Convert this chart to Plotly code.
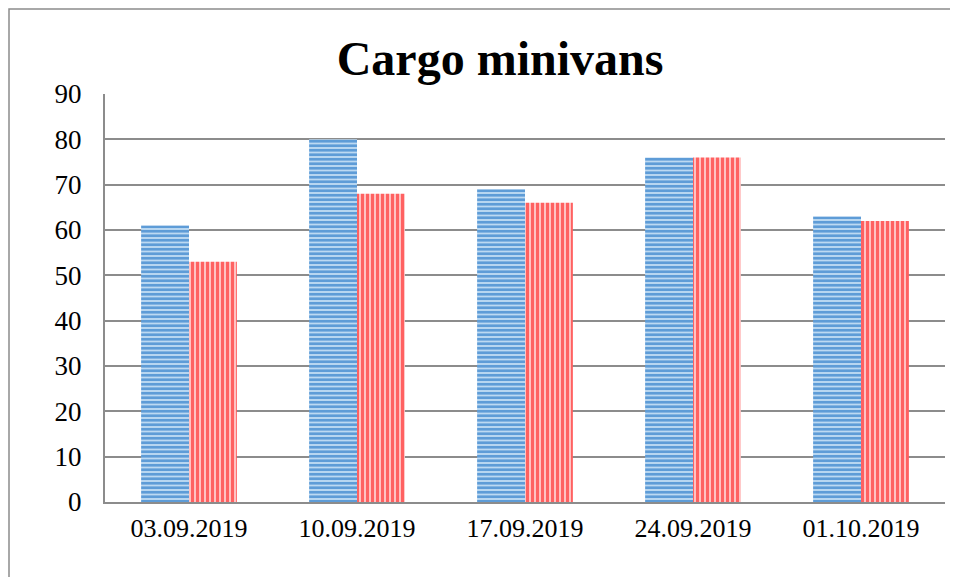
import plotly.graph_objects as go

categories = ["03.09.2019", "10.09.2019", "17.09.2019", "24.09.2019", "01.10.2019"]
series_a = [61, 80, 69, 76, 63]
series_b = [53, 68, 66, 76, 62]
y_ticks = [0, 10, 20, 30, 40, 50, 60, 70, 80, 90]

L, T, PW, PH = 97, 86, 840, 408
W, H = 958, 577

fig = go.Figure()
fig.add_trace(go.Bar(
    x=categories, y=series_a, name="A",
    marker=dict(color="#bcd9f2", line=dict(width=0),
                pattern=dict(shape="-", fgcolor="#005fbb", bgcolor="#bcd9f2",
                             size=4.5, solidity=0.6, fillmode="overlay")),
))
fig.add_trace(go.Bar(
    x=categories, y=series_b, name="B",
    marker=dict(color="#ffc2c2", line=dict(width=0),
                pattern=dict(shape="|", fgcolor="#ff0000", bgcolor="#ffc2c2",
                             size=5, solidity=0.6, fillmode="overlay")),
))

fig.update_layout(
    width=W, height=H,
    margin=dict(l=L, r=W - L - PW, t=T, b=H - T - PH),
    paper_bgcolor="white", plot_bgcolor="white",
    barmode="group", bargap=0.43, bargroupgap=0,
    showlegend=False,
    font=dict(family="Liberation Serif", size=26, color="black"),
    title=dict(text="<b>Cargo minivans</b>", x=0.5136, xanchor="center",
               y=1 - 50 / H, yanchor="middle",
               font=dict(family="Liberation Serif", size=48, color="black")),
    xaxis=dict(showgrid=False, showline=True, linecolor="#8c8c8c", linewidth=2,
               ticks="", tickfont=dict(size=26), ticklabelstandoff=2),
    yaxis=dict(range=[0, 90], tickvals=y_ticks, showgrid=True,
               gridcolor="#8c8c8c", gridwidth=2, showline=True,
               linecolor="#8c8c8c", linewidth=2, zeroline=False,
               ticks="", tickfont=dict(size=27), ticklabelstandoff=16),
    shapes=[dict(type="rect", xref="paper", yref="paper",
                 x0=(1 - L) / PW, x1=1.2, y0=-0.5, y1=1 + (T - 1) / PH,
                 line=dict(color="#8c8c8c", width=1.5), fillcolor="rgba(0,0,0,0)",
                 layer="below")],
)

fig.write_html("out.html")
